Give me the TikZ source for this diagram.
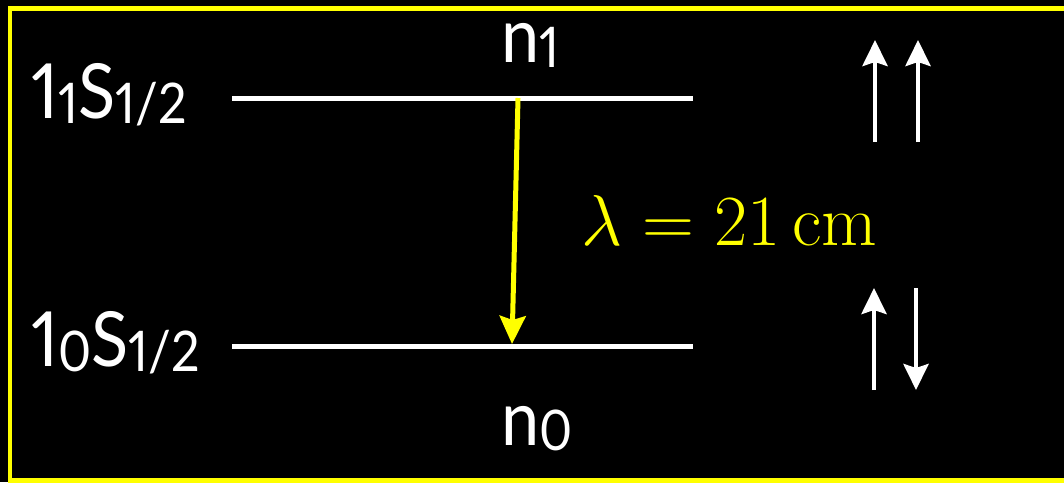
\RequirePackage{fix-cm}
\documentclass[tikz,border=0pt]{standalone}
\usepackage{fontspec}
\newfontfamily\gill[Numbers=Proportional,FakeStretch=0.9]{Lato}
\usetikzlibrary{arrows.meta}
\definecolor{hyellow}{RGB}{255,255,0}
\newcommand\levsub[1]{\raisebox{-2.5pt}{\fontsize{28}{30}\selectfont #1}}
\tikzset{
  level/.style={white,line width=2.5pt},
  spin/.style={white,line width=2.2pt,-{Stealth[length=13pt,width=12.5pt,inset=2pt]}},
  trans/.style={hyellow,line width=2.5pt,-{Stealth[length=14pt,width=13pt,inset=2pt]}},
  lbl/.style={text=white,font=\gill\fontsize{38}{40}\selectfont,anchor=base west,inner sep=0pt}
}
\begin{document}
\begin{tikzpicture}[x=0.5pt,y=-0.5pt,line cap=butt]
				\useasboundingbox (0,0) rectangle (1064,482);
				\fill[black] (0,0) rectangle (1064,482);
				\draw[hyellow,line width=2.3pt] (1064,8.5) -- (10,8.5) -- (10,480.5) -- (1064,480.5);
				% the two hyperfine levels
				\coordinate (up1) at (232,98);
				\coordinate (up2) at (693,98);
				\coordinate (lo1) at (232,346);
				\coordinate (lo2) at (693,346);
				\draw[level] (up1) -- (up2);
				\draw[level] (lo1) -- (lo2);
				\node[lbl] (upname) at (31,118) {1\levsub{1}S\levsub{1/2}};
				\node[lbl] (loname) at (31,366) {1\levsub{0}S\levsub{1/2}};
				\node[lbl] (nup) at (501,62) {n\levsub{1}};
				\node[lbl] (nlo) at (501,445) {n\levsub{0}};
				% spin flip transition
				\coordinate (tup) at (518,98);
				\coordinate (tlo) at (512,344);
				\draw[trans] (tup) -- (tlo);
				\node[anchor=base west,inner sep=0pt,text=hyellow,font=\fontsize{36}{38}\selectfont] (wave) at (581,245) {$\lambda = 21\,\mathrm{cm}$};
				% spins
				\foreach \x in {875,918}
				\draw[spin] (\x,142) -- (\x,40);
				\draw[spin] (874,390) -- (874,288);
				\draw[spin] (916,288) -- (916,390);
\end{tikzpicture}
\end{document}
